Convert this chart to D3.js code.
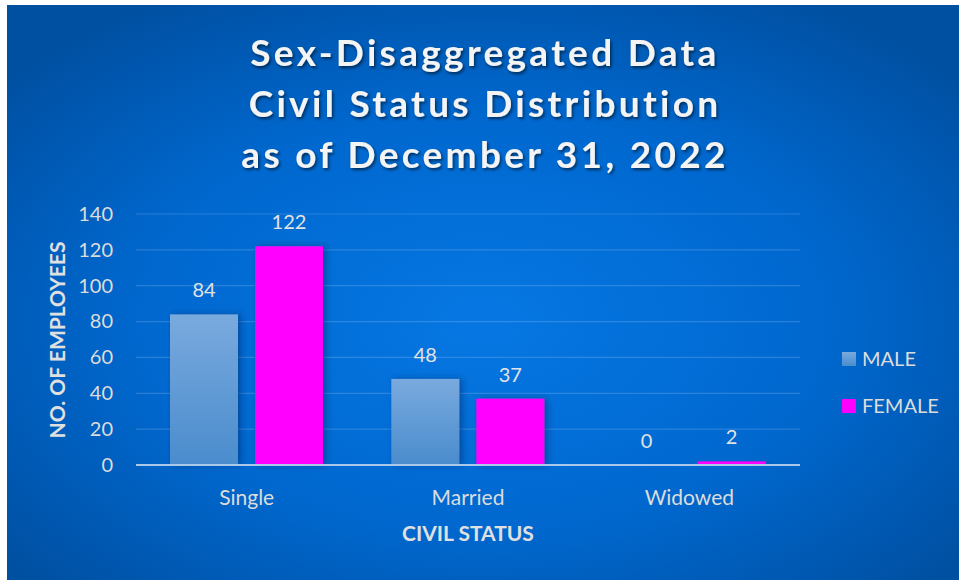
<!DOCTYPE html>
<html lang="en">
<head>
    <meta charset="UTF-8" />
    <title>Civil Status Distribution</title>
    <style>
        body { margin: 0; background: #fff; }
        svg { display: block; }
        text { font-family: Lato, "Open Sans", sans-serif; }
    </style>
</head>
<body>
    <svg></svg>
    <script src="https://d3js.org/d3.v7.min.js"></script>
    <script>
        const width = 959;
        const height = 580;

        const categories = ["Single", "Married", "Widowed"];
        const seriesNames = ["MALE", "FEMALE"];
        const maleValues = [84, 48, 0];
        const femaleValues = [122, 37, 2];
        const yTicks = [0, 20, 40, 60, 80, 100, 120, 140];
        const titleLines = ["Sex-Disaggregated Data", "Civil Status Distribution", "as of December 31, 2022"];

        const plot = { left: 136, right: 800, top: 214, bottom: 465 };

        const svg = d3.select("svg").attr("width", width).attr("height", height);
        const defs = svg.append("defs");

        const bg = defs.append("radialGradient").attr("id", "bg")
            .attr("cx", "50%").attr("cy", "55%").attr("r", "65%");
        bg.append("stop").attr("offset", "0%").attr("stop-color", "#0677e3");
        bg.append("stop").attr("offset", "55%").attr("stop-color", "#0068cf");
        bg.append("stop").attr("offset", "100%").attr("stop-color", "#0050a2");

        const maleGrad = defs.append("linearGradient").attr("id", "male")
            .attr("x1", 0).attr("y1", 0).attr("x2", 0).attr("y2", 1);
        maleGrad.append("stop").attr("offset", "0%").attr("stop-color", "#79aade");
        maleGrad.append("stop").attr("offset", "100%").attr("stop-color", "#4a8ccd");

        const shadow = defs.append("filter").attr("id", "shadow")
            .attr("x", "-10%").attr("y", "-10%").attr("width", "130%").attr("height", "130%");
        shadow.append("feDropShadow").attr("dx", 1.5).attr("dy", 2)
            .attr("stdDeviation", 1.5).attr("flood-color", "#000").attr("flood-opacity", 0.55);

        const barShadow = defs.append("filter").attr("id", "barShadow")
            .attr("x", "-20%").attr("y", "-10%").attr("width", "150%").attr("height", "120%");
        barShadow.append("feDropShadow").attr("dx", 3).attr("dy", 0)
            .attr("stdDeviation", 3).attr("flood-color", "#002a66").attr("flood-opacity", 0.5);

        svg.append("rect")
            .attr("x", 7).attr("y", 5)
            .attr("width", width - 7).attr("height", height - 5)
            .attr("fill", "url(#bg)");

        // title
        svg.append("g").selectAll("text")
            .data(titleLines)
            .join("text")
            .attr("x", 485)
            .attr("y", (d, i) => 66 + i * 51)
            .attr("text-anchor", "middle")
            .attr("fill", "#f4f4f4")
            .attr("font-size", 37)
            .attr("font-weight", "bold")
            .attr("letter-spacing", 3.3)
            .attr("filter", "url(#shadow)")
            .text(d => d);

        const x0 = d3.scaleBand().domain(categories).range([plot.left, plot.right]);
        const x1 = d3.scaleBand().domain(seriesNames).range([34, 187]).paddingInner(0.2);
        const y = d3.scaleLinear().domain([0, 140]).range([plot.bottom, plot.top]);

        // gridlines
        svg.append("g").selectAll("line")
            .data(yTicks.filter(d => d > 0))
            .join("line")
            .attr("x1", plot.left).attr("x2", plot.right)
            .attr("y1", d => y(d)).attr("y2", d => y(d))
            .attr("stroke", "#ffffff").attr("stroke-opacity", 0.16).attr("stroke-width", 1.2);

        // y tick labels
        const yAxis = svg.append("g")
            .attr("transform", `translate(${plot.left - 23},0)`)
            .call(d3.axisLeft(y).tickValues(yTicks).tickSize(0).tickPadding(0));
        yAxis.select(".domain").remove();
        yAxis.selectAll("text")
            .attr("fill", "#dcdcdc").attr("font-size", 20)
            .attr("font-family", "Lato, sans-serif");

        const data = categories.map((c, i) => ({ cat: c, values: [
            { key: "MALE", value: maleValues[i] },
            { key: "FEMALE", value: femaleValues[i] }
        ] }));

        const colors = { MALE: "url(#male)", FEMALE: "#ff00ff" };

        const groups = svg.append("g").selectAll("g")
            .data(data)
            .join("g")
            .attr("transform", d => `translate(${x0(d.cat)},0)`);

        groups.selectAll("rect")
            .data(d => d.values)
            .join("rect")
            .attr("x", d => x1(d.key))
            .attr("y", d => y(d.value))
            .attr("width", x1.bandwidth())
            .attr("height", d => y(0) - y(d.value))
            .attr("fill", d => colors[d.key])
            .attr("filter", "url(#barShadow)");

        groups.selectAll("text")
            .data(d => d.values)
            .join("text")
            .attr("x", d => x1(d.key) + x1.bandwidth() / 2)
            .attr("y", d => y(d.value) - 17)
            .attr("text-anchor", "middle")
            .attr("fill", "#e2e2e2")
            .attr("font-size", 20)
            .text(d => d.value);

        // baseline
        svg.append("line")
            .attr("x1", plot.left).attr("x2", plot.right)
            .attr("y1", y(0)).attr("y2", y(0))
            .attr("stroke", "#a9c8ea").attr("stroke-width", 2.2);

        // x category labels
        const xAxis = svg.append("g")
            .attr("transform", `translate(0,${plot.bottom})`)
            .call(d3.axisBottom(x0).tickSize(0).tickPadding(25));
        xAxis.select(".domain").remove();
        xAxis.selectAll("text")
            .attr("fill", "#dcdcdc").attr("font-size", 21)
            .attr("font-family", "Lato, sans-serif");

        // axis titles
        svg.append("text")
            .attr("x", 468).attr("y", 541)
            .attr("text-anchor", "middle")
            .attr("fill", "#e0e0e0").attr("font-size", 21).attr("font-weight", "bold")
            .text("CIVIL STATUS");

        svg.append("text")
            .attr("transform", "translate(65,340) rotate(-90)")
            .attr("text-anchor", "middle")
            .attr("fill", "#e0e0e0").attr("font-size", 21).attr("font-weight", "bold")
            .text("NO. OF EMPLOYEES");

        // legend
        const legend = svg.append("g").selectAll("g")
            .data(seriesNames)
            .join("g")
            .attr("transform", (d, i) => `translate(842,${352 + i * 47})`);
        legend.append("rect")
            .attr("width", 14).attr("height", 14)
            .attr("fill", d => colors[d]);
        legend.append("text")
            .attr("x", 20).attr("y", 14)
            .attr("fill", "#dcdcdc").attr("font-size", 20)
            .text(d => d);
    </script>
</body>
</html>
